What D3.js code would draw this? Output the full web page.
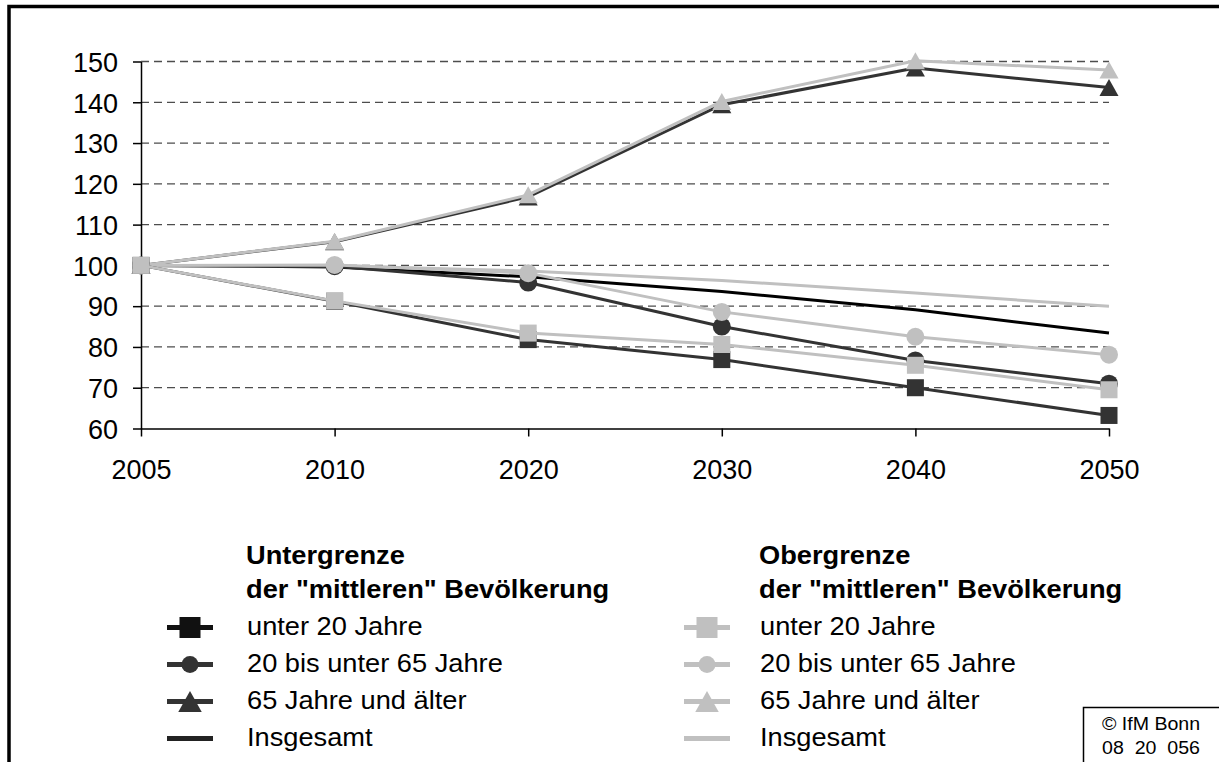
<!DOCTYPE html>
<html>
<head>
<meta charset="utf-8">
<script src="https://cdn.jsdelivr.net/npm/d3@7"></script>
<style>
  html, body { margin: 0; padding: 0; background: #fff; }
  svg { display: block; font-family: "Liberation Sans", Arial, sans-serif; }
</style>
</head>
<body>
<svg id="chart" width="1219" height="762"></svg>
<script>
// ---------- data ----------
const years = ["2005", "2010", "2020", "2030", "2040", "2050"];
const yTickValues = [60, 70, 80, 90, 100, 110, 120, 130, 140, 150];
const itemLabels = ["unter 20 Jahre", "20 bis unter 65 Jahre", "65 Jahre und älter", "Insgesamt"];
const groupTitles = [["Untergrenze", "der \"mittleren\" Bevölkerung"], ["Obergrenze", "der \"mittleren\" Bevölkerung"]];
const copyrightLines = ["© IfM Bonn", "08  20  056"];

// Untergrenze
const lowUnder20 = [100, 91.2, 81.8, 76.9, 70.0, 63.2];
const low20to65 = [100, 99.8, 95.8, 85.0, 76.7, 71.0];
const low65plus = [100, 105.8, 116.8, 139.4, 148.4, 143.6];
const lowTotal = [100, 99.6, 97.2, 93.6, 89.1, 83.4];
// Obergrenze
const highUnder20 = [100, 91.3, 83.4, 80.6, 75.5, 69.5];
const high20to65 = [100, 100.1, 98.1, 88.6, 82.5, 78.1];
const high65plus = [100, 105.9, 117.3, 140.2, 150.2, 147.9];
const highTotal = [100, 99.9, 98.6, 96.3, 93.2, 90.0];

// ---------- setup ----------
const svg = d3.select("#chart");
const DARK = "#333333", LIGHT = "#c0c0c0";

const x = d3.scalePoint().domain(years).range([141, 1109]);
const y = d3.scaleLinear().domain([60, 150]).range([428.5, 61.5]);

// outer frame
svg.append("rect").attr("x", 9).attr("y", 6.5).attr("width", 1400).attr("height", 1000)
  .attr("fill", "none").attr("stroke", "#000").attr("stroke-width", 3.5);

// gridlines
svg.append("g").selectAll("line").data(yTickValues.filter(v => v > 60)).join("line")
  .attr("x1", x.range()[0]).attr("x2", x.range()[1])
  .attr("y1", d => y(d)).attr("y2", d => y(d))
  .attr("stroke", "#4d4d4d").attr("stroke-width", 1.3).attr("stroke-dasharray", "8,5");

// y axis
const yAxis = svg.append("g").attr("transform", `translate(${x.range()[0]},0)`)
  .call(d3.axisLeft(y).tickValues(yTickValues).tickSize(8).tickPadding(15).tickSizeOuter(0));
yAxis.select(".domain").attr("stroke", "#000").attr("stroke-width", 1.5);
yAxis.selectAll(".tick line").attr("stroke", "#000").attr("stroke-width", 1.5);
yAxis.selectAll(".tick text").attr("font-size", 27).attr("fill", "#000")
  .attr("font-family", "Liberation Sans, Arial, sans-serif").attr("dy", "0.36em");

// x axis
const xAxis = svg.append("g").attr("transform", `translate(0,${y(60)})`)
  .call(d3.axisBottom(x).tickSize(8).tickPadding(23).tickSizeOuter(0));
xAxis.select(".domain").attr("stroke", "#000").attr("stroke-width", 1.5);
xAxis.selectAll(".tick line").attr("stroke", "#000").attr("stroke-width", 1.5);
xAxis.selectAll(".tick text").attr("font-size", 27).attr("fill", "#000")
  .attr("font-family", "Liberation Sans, Arial, sans-serif");

// ---------- series ----------
const series = [
  { values: lowTotal, color: "#000", marker: null },
  { values: highTotal, color: LIGHT, marker: null },
  { values: low65plus, color: DARK, marker: "triangle" },
  { values: high65plus, color: LIGHT, marker: "triangle" },
  { values: low20to65, color: DARK, marker: "circle" },
  { values: high20to65, color: LIGHT, marker: "circle" },
  { values: lowUnder20, color: DARK, marker: "square" },
  { values: highUnder20, color: LIGHT, marker: "square" },
];

const line = d3.line().x((d, i) => x(years[i])).y(d => y(d));

function drawMarker(g, type, cx, cy, color, s) {
  if (type === "square") {
    g.append("rect").attr("x", cx - s / 2).attr("y", cy - s / 2).attr("width", s).attr("height", s).attr("fill", color);
  } else if (type === "circle") {
    g.append("circle").attr("cx", cx).attr("cy", cy).attr("r", s / 2).attr("fill", color);
  } else if (type === "triangle") {
    const w = s * 1.12, h = s;
    g.append("path").attr("d", `M${cx},${cy - h / 2}L${cx + w / 2},${cy + h / 2}L${cx - w / 2},${cy + h / 2}Z`).attr("fill", color);
  }
}

const plot = svg.append("g");
series.forEach(s => {
  const g = plot.append("g");
  g.append("path").attr("d", line(s.values)).attr("fill", "none")
    .attr("stroke", s.color).attr("stroke-width", 3).attr("stroke-linejoin", "round");
  if (s.marker) {
    const size = s.marker === "circle" ? 18 : 17;
    s.values.forEach((v, i) => drawMarker(g, s.marker, x(years[i]), y(v), s.color, size));
  }
});

// ---------- legend ----------
const legendGroups = [
  { textX: 246, symX: 190, colors: ["#111", DARK, DARK, "#222"], titles: groupTitles[0] },
  { textX: 759, symX: 707, colors: [LIGHT, LIGHT, LIGHT, LIGHT], titles: groupTitles[1] },
];
const markers = ["square", "circle", "triangle", null];
const SX = 1.09;

function stretchedText(parent, tx, ty, str, size, weight) {
  parent.append("text").attr("transform", `translate(${tx},${ty}) scale(${SX},1)`)
    .attr("font-size", size).attr("font-weight", weight).attr("fill", "#000").text(str);
}

legendGroups.forEach(grp => {
  const g = svg.append("g");
  stretchedText(g, grp.textX, 564, grp.titles[0], 25, "bold");
  stretchedText(g, grp.textX, 598, grp.titles[1], 25, "bold");
  itemLabels.forEach((lab, i) => {
    const base = 635 + i * 37;
    const cy = base - 7.5;
    g.append("line").attr("x1", grp.symX - 23).attr("x2", grp.symX + 23).attr("y1", cy).attr("y2", cy)
      .attr("stroke", grp.colors[i]).attr("stroke-width", 5);
    if (markers[i] === "square") drawMarker(g, "square", grp.symX, cy, grp.colors[i], 21);
    if (markers[i] === "circle") drawMarker(g, "circle", grp.symX, cy, grp.colors[i], 17);
    if (markers[i] === "triangle") drawMarker(g, "triangle", grp.symX, cy, grp.colors[i], 21);
    stretchedText(g, grp.textX + 1, base, lab, 25, "normal");
  });
});

// ---------- copyright box ----------
svg.append("rect").attr("x", 1083.5).attr("y", 707.5).attr("width", 300).attr("height", 200)
  .attr("fill", "#fff").attr("stroke", "#000").attr("stroke-width", 1.5);
copyrightLines.forEach((t, i) => {
  svg.append("text").attr("transform", `translate(1151,${730 + i * 24}) scale(1.12,1)`)
    .attr("text-anchor", "middle").attr("font-size", 17.5).attr("fill", "#000")
    .style("white-space", "pre").text(t);
});
</script>
</body>
</html>
